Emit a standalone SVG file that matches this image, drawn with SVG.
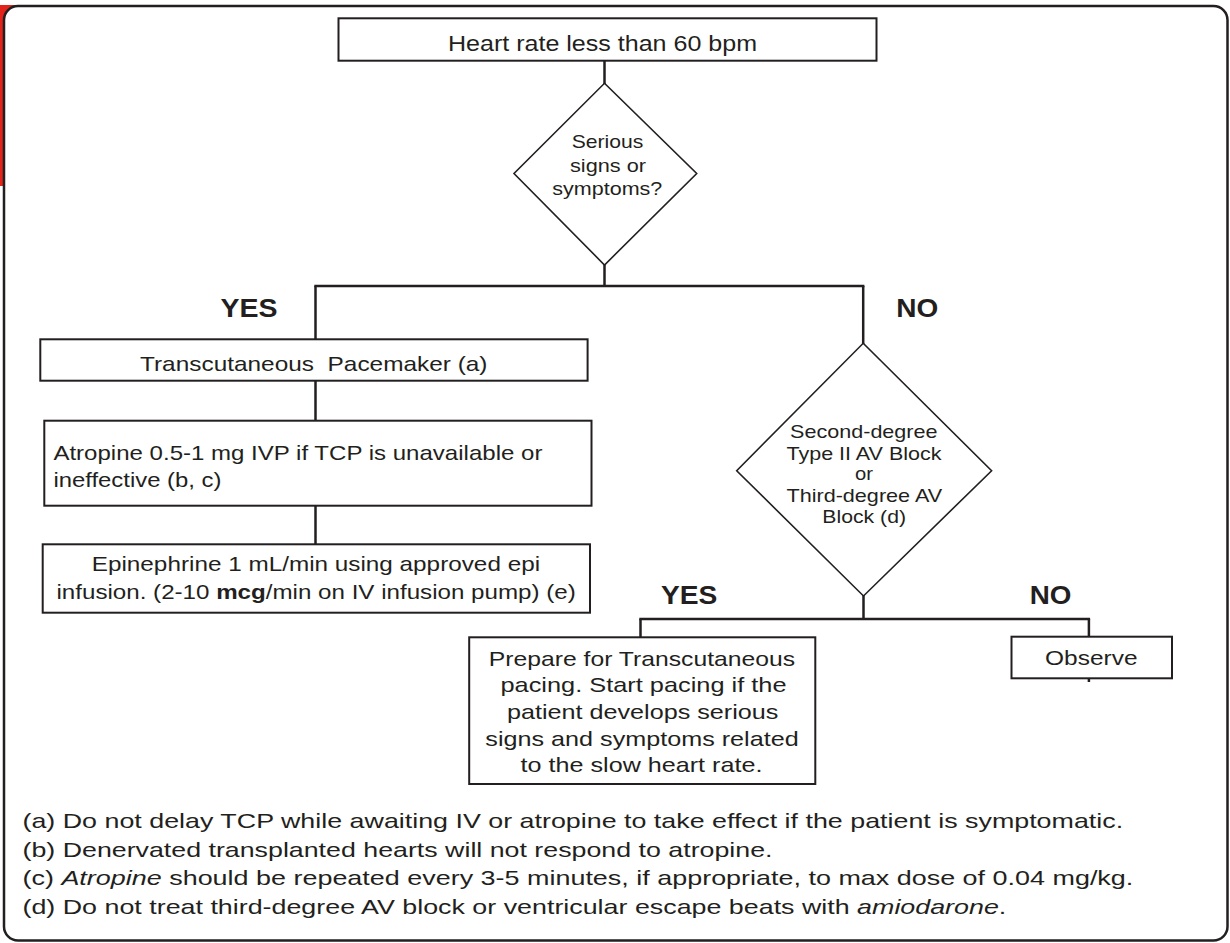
<svg xmlns="http://www.w3.org/2000/svg" width="1230" height="943" viewBox="0 0 1230 943">
<style>
.box{fill:#fff;stroke:#231f20;stroke-width:2}
.dia{fill:#fff;stroke:#231f20;stroke-width:1.6}
.conn line{stroke:#231f20;stroke-width:2.5;fill:none}
text{font-family:"Liberation Sans",Arial,Helvetica,sans-serif;fill:#231f20}
.t{font-size:21px}
.d{font-size:19px}
.lbl{font-size:25px;font-weight:bold}
.fn{font-size:21px}
.m{text-anchor:middle}
</style>
<rect x="0" y="5" width="22" height="181" fill="#e2231a"/>
<rect x="4" y="6" width="1223.5" height="934.5" rx="14" ry="14" fill="#fff" stroke="#231f20" stroke-width="2.5"/>

<g id="connectors" class="conn">
<line x1="604.5" y1="60.7" x2="604.5" y2="84"/>
<line x1="604.5" y1="264" x2="604.5" y2="286"/>
<line x1="314.3" y1="286" x2="864.4" y2="286"/>
<line x1="315.5" y1="286" x2="315.5" y2="339.3"/>
<line x1="863.2" y1="286" x2="863.2" y2="344"/>
<line x1="315.5" y1="380.7" x2="315.5" y2="420.7"/>
<line x1="315.5" y1="505.7" x2="315.5" y2="544.3"/>
<line x1="863.5" y1="595" x2="863.5" y2="619"/>
<line x1="639.3" y1="619" x2="1090.1" y2="619"/>
<line x1="640.5" y1="619" x2="640.5" y2="637.3"/>
<line x1="1088.9" y1="619" x2="1088.9" y2="636.7"/>
<line x1="1088.9" y1="678.3" x2="1088.9" y2="682"/>
</g>

<g id="labels">
<text class="lbl" x="220.6" y="316.7" textLength="57" lengthAdjust="spacingAndGlyphs">YES</text>
<text class="lbl" x="896.3" y="317.3" textLength="42" lengthAdjust="spacingAndGlyphs">NO</text>
<text class="lbl" x="660.9" y="604" textLength="56.4" lengthAdjust="spacingAndGlyphs">YES</text>
<text class="lbl" x="1029.7" y="604" textLength="41.7" lengthAdjust="spacingAndGlyphs">NO</text>
</g>

<g id="start">
<rect class="box" x="338.5" y="18.3" width="538" height="42.4"/>
<text class="m" style="font-size:22px" x="602.5" y="50.7" textLength="309" lengthAdjust="spacingAndGlyphs">Heart rate less than 60 bpm</text>
</g>

<g id="decision1">
<polygon class="dia" points="604.5,83.3 696.7,173.5 604.5,265 514,173.5"/>
<text class="d m" x="607.5" y="147.7" textLength="71.6" lengthAdjust="spacingAndGlyphs">Serious</text>
<text class="d m" x="608" y="172.3" textLength="76" lengthAdjust="spacingAndGlyphs">signs or</text>
<text class="d m" x="607.3" y="195" textLength="110" lengthAdjust="spacingAndGlyphs">symptoms?</text>
</g>

<g id="pacemaker">
<rect class="box" x="40.3" y="339.3" width="547.3" height="41.4"/>
<text class="t" xml:space="preserve" x="140" y="370.7" textLength="347.5" lengthAdjust="spacingAndGlyphs">Transcutaneous  Pacemaker (a)</text>
</g>

<g id="atropine">
<rect class="box" x="44.3" y="420.7" width="547.2" height="85"/>
<text class="t" x="53.4" y="460" textLength="489" lengthAdjust="spacingAndGlyphs">Atropine 0.5-1 mg IVP if TCP is unavailable or</text>
<text class="t" x="53.4" y="487.3" textLength="168" lengthAdjust="spacingAndGlyphs">ineffective (b, c)</text>
</g>

<g id="epinephrine">
<rect class="box" x="42.7" y="544.3" width="547.3" height="68.4"/>
<text class="t m" x="315.9" y="571" textLength="448.3" lengthAdjust="spacingAndGlyphs">Epinephrine 1 mL/min using approved epi</text>
<text class="t m" x="316.1" y="599" textLength="519.2" lengthAdjust="spacingAndGlyphs">infusion. (2-10 <tspan font-weight="bold">mcg</tspan>/min on IV infusion pump) (e)</text>
</g>

<g id="decision2">
<polygon class="dia" points="863.2,343.3 991.6,470.7 863.5,596 736.7,470.7"/>
<text class="d m" x="863.8" y="438.3" textLength="147.5" lengthAdjust="spacingAndGlyphs">Second-degree</text>
<text class="d m" x="864" y="460" textLength="155" lengthAdjust="spacingAndGlyphs">Type II AV Block</text>
<text class="d m" x="864" y="480" textLength="18" lengthAdjust="spacingAndGlyphs">or</text>
<text class="d m" x="864.3" y="501.7" textLength="155.7" lengthAdjust="spacingAndGlyphs">Third-degree AV</text>
<text class="d m" x="864.2" y="522.7" textLength="83.7" lengthAdjust="spacingAndGlyphs">Block (d)</text>
</g>

<g id="prepare">
<rect class="box" x="469.2" y="637.3" width="346.1" height="146.7"/>
<text class="t m" x="642" y="666" textLength="306.3" lengthAdjust="spacingAndGlyphs">Prepare for Transcutaneous</text>
<text class="t m" x="643.5" y="692.3" textLength="286" lengthAdjust="spacingAndGlyphs">pacing. Start pacing if the</text>
<text class="t m" x="642.7" y="719" textLength="271.5" lengthAdjust="spacingAndGlyphs">patient develops serious</text>
<text class="t m" x="642" y="745.7" textLength="313.4" lengthAdjust="spacingAndGlyphs">signs and symptoms related</text>
<text class="t m" x="641.5" y="772.3" textLength="241.8" lengthAdjust="spacingAndGlyphs">to the slow heart rate.</text>
</g>

<g id="observe">
<rect class="box" x="1011.5" y="636.7" width="160.5" height="41.6"/>
<text class="t m" x="1091.3" y="665" textLength="92.5" lengthAdjust="spacingAndGlyphs">Observe</text>
</g>

<g id="footnotes">
<text class="fn" x="22.5" y="827.5" textLength="1100.6" lengthAdjust="spacingAndGlyphs">(a) Do not delay TCP while awaiting IV or atropine to take effect if the patient is symptomatic.</text>
<text class="fn" x="22.5" y="856.5" textLength="750" lengthAdjust="spacingAndGlyphs">(b) Denervated transplanted hearts will not respond to atropine.</text>
<text class="fn" x="22.5" y="885" textLength="1110.8" lengthAdjust="spacingAndGlyphs">(c) <tspan font-style="italic">Atropine</tspan> should be repeated every 3-5 minutes, if appropriate, to max dose of 0.04 mg/kg.</text>
<text class="fn" x="22.5" y="913.5" textLength="983.8" lengthAdjust="spacingAndGlyphs">(d) Do not treat third-degree AV block or ventricular escape beats with <tspan font-style="italic">amiodarone</tspan>.</text>
</g>
</svg>
